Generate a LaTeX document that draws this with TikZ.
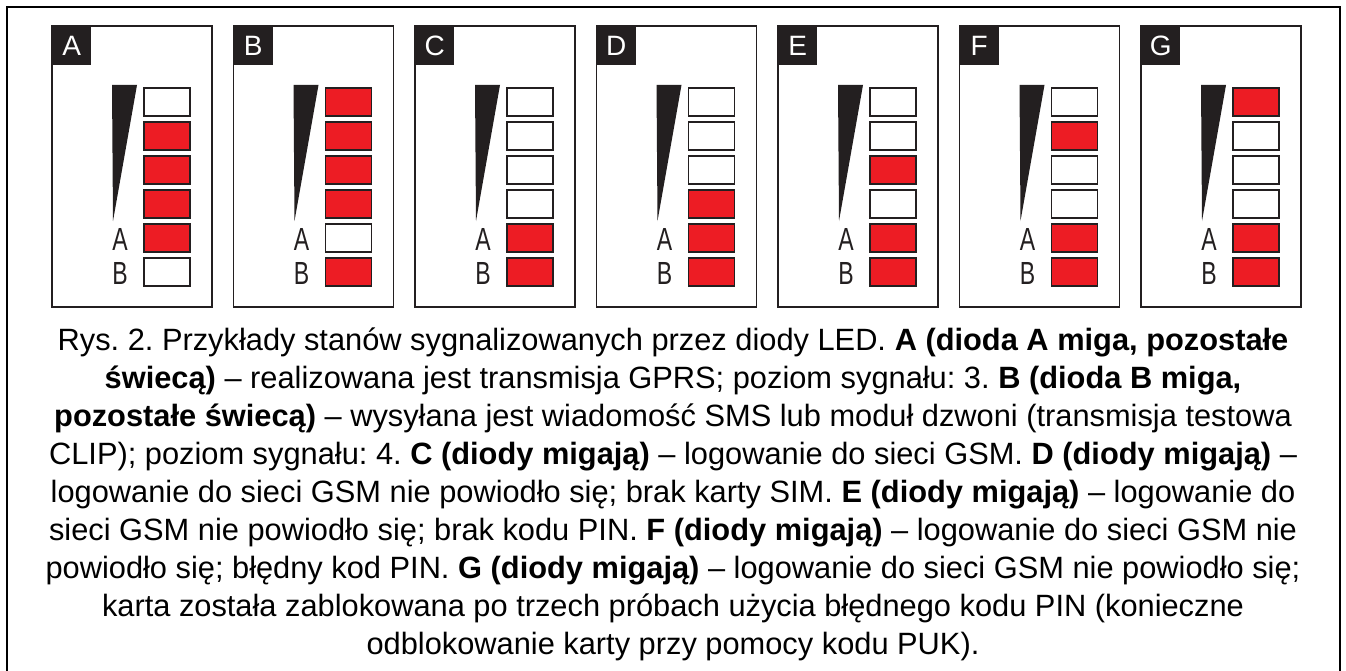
\documentclass[tikz,border=0pt]{standalone}
\usepackage{fontspec}
\setmainfont{Liberation Sans}
\usepackage{tikz}
\frenchspacing
\definecolor{ledred}{RGB}{237,28,36}
\definecolor{ink}{RGB}{35,31,32}
\colorlet{led0}{white}
\colorlet{led1}{ledred}
\tikzset{
  frame/.style={draw=black, line width=2pt},
  panel/.style={draw=ink, line width=1.6pt},
  tagbox/.style={fill=ink, text=white, minimum width=39pt, minimum height=39pt,
    inner sep=0pt, font=\fontsize{28}{28}\selectfont},
  led/.style={draw=ink, line width=1.6pt, fill=#1},
  ledlabel/.style={inner sep=0pt, text=ink, font=\fontsize{32}{32}\selectfont},
  caption/.style={align=center, inner sep=0pt, font=\fontsize{30.8}{38}\selectfont}
}

\begin{document}
\begin{tikzpicture}[x=1pt, y=-1pt]
\useasboundingbox (0,0) rectangle (1346,671);
\begin{scope}
	\clip (0,0) rectangle (1346,671);
	\draw[frame] (7,7) rectangle (1340,680);
\end{scope}
% seven panels, LEDs listed top to bottom (1 = lit)
\foreach \pname/\leds [count=\i from 0] in {A/{0,1,1,1,1,0}, B/{1,1,1,1,0,1},
	C/{0,0,0,0,1,1}, D/{0,0,0,1,1,1}, E/{0,0,1,0,1,1}, F/{0,1,0,0,1,1},
	G/{1,0,0,0,1,1}}{
	\pgfmathsetmacro\px{52+181.5*\i}
	\draw[panel] (\px,26) rectangle ++(160,281);
	\node[tagbox, anchor=north west] (tag\pname) at (\px,26) {\pname};
	\fill[ink] (\px+60,85) -- (\px+85,85) -- (\px+61,221) -- cycle;
	\foreach \s [count=\k from 0] in \leds
		\draw[led=led\s] (\px+92,88+34*\k) rectangle ++(46,28);
	\node[ledlabel] (la\pname) at (\px+68,239) {\scalebox{0.72}[1]{A}};
	\node[ledlabel] (lb\pname) at (\px+68,273) {\scalebox{0.72}[1]{B}};
}
\node[caption] (cap) at (673,494) {%
Rys. 2. Przykłady stanów sygnalizowanych przez diody LED. \textbf{A (dioda A miga, pozostałe}\\
\textbf{świecą)} – realizowana jest transmisja GPRS; poziom sygnału: 3. \textbf{B (dioda B miga,}\\
\textbf{pozostałe świecą)} – wysyłana jest wiadomość SMS lub moduł dzwoni (transmisja testowa\\
CLIP); poziom sygnału: 4. \textbf{C (diody migają)} – logowanie do sieci GSM. \textbf{D (diody migają)} –\\
logowanie do sieci GSM nie powiodło się; brak karty SIM. \textbf{E (diody migają)} – logowanie do\\
sieci GSM nie powiodło się; brak kodu PIN. \textbf{F (diody migają)} – logowanie do sieci GSM nie\\
powiodło się; błędny kod PIN. \textbf{G (diody migają)} – logowanie do sieci GSM nie powiodło się;\\
karta została zablokowana po trzech próbach użycia błędnego kodu PIN (konieczne\\
odblokowanie karty przy pomocy kodu PUK).};
\end{tikzpicture}
\end{document}
